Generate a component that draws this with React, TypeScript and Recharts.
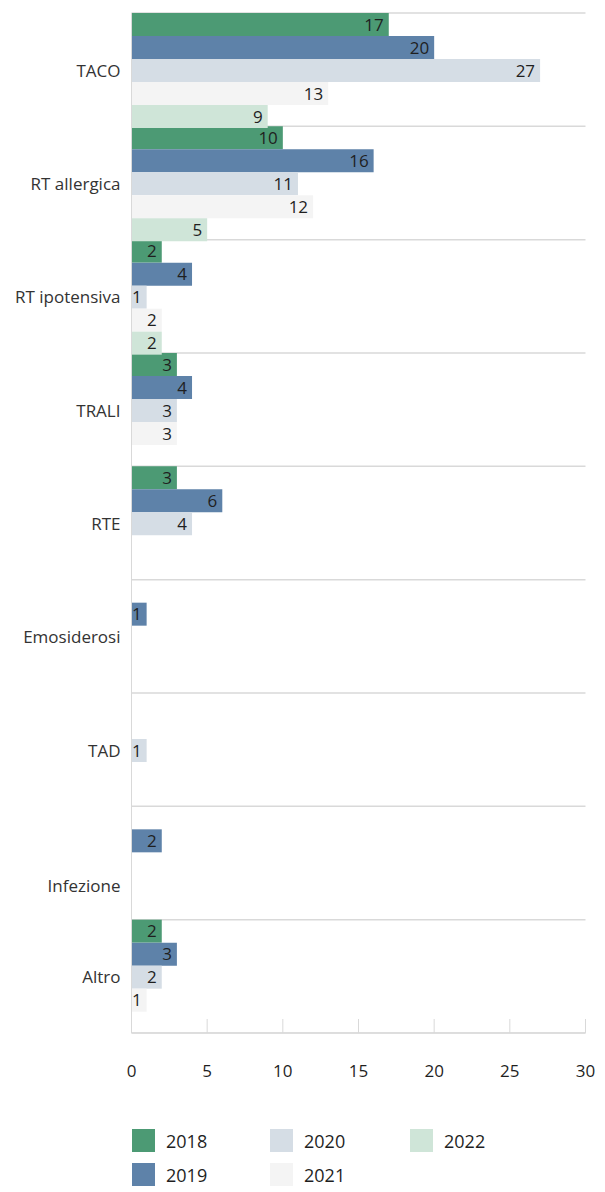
import { Bar, BarChart, CartesianGrid, LabelList, XAxis, YAxis } from "recharts";

// Reazioni trasfusionali per tipo, 2018–2022
const categories = [
  "TACO",
  "RT allergica",
  "RT ipotensiva",
  "TRALI",
  "RTE",
  "Emosiderosi",
  "TAD",
  "\n\nInfezione",
  "Altro",
];

const years = ["2018", "2019", "2020", "2021", "2022"];

const v2018 = [17, 10, 2, 3, 3, null, null, null, 2];
const v2019 = [20, 16, 4, 4, 6, 1, null, 2, 3];
const v2020 = [27, 11, 1, 3, 4, null, 1, null, 2];
const v2021 = [13, 12, 2, 3, null, null, null, null, 1];
const v2022 = [9, 5, 2, null, null, null, null, null, null];

const xTicks = [0, 5, 10, 15, 20, 25, 30];

const colors = ["#4c9a74", "#5e82a9", "#d5dde5", "#f4f4f4", "#cfe5d8"];

const font = "'Open Sans', sans-serif";
const textColor = "#1f1f1f";
const lineColor = "#d9d9d9";

const seriesValues = [v2018, v2019, v2020, v2021, v2022];

const data = categories.map((name, i) => {
  const row: Record<string, string | number | null> = { name };
  years.forEach((y, s) => {
    row[y] = seriesValues[s][i];
  });
  return row;
});

// separators sit on the band edges of the category axis, not on its ticks
function bandEdges({ yAxis }: any): number[] {
  const scale = yAxis?.scale;
  if (!scale) return [];
  const map = (c: string): number =>
    typeof scale === "function" ? scale(c) : scale.map(c);
  const bw =
    typeof scale.bandwidth === "function"
      ? scale.bandwidth()
      : yAxis.bandSize ?? 0;
  const starts = categories.map((c) => map(c));
  if (starts.some((v) => typeof v !== "number" || isNaN(v))) return [];
  return starts.concat(starts[starts.length - 1] + bw);
}

function CategoryTick(props: any) {
  const { x, y, payload } = props;
  const lines = String(payload.value).split("\n");
  const lh = 22;
  const start = y - ((lines.length - 1) * lh) / 2;
  return (
    <text
      x={x}
      y={start}
      textAnchor="end"
      fill="#333"
      fontSize={17}
      fontFamily={font}
      dominantBaseline="central"
    >
      {lines.map((l, i) => (
        <tspan key={i} x={x} y={start + i * lh}>
          {l}
        </tspan>
      ))}
    </text>
  );
}

function LegendBlock() {
  const rows = [
    [0, 2, 4],
    [1, 3],
  ];
  const colX = [124, 262, 402];
  return (
    <div style={{ position: "relative", height: 70, fontFamily: font }}>
      {rows.map((row, r) =>
        row.map((s, c) => (
          <div
            key={years[s]}
            style={{
              position: "absolute",
              left: colX[c],
              top: 11 + r * 34,
              display: "flex",
              alignItems: "center",
              height: 23,
            }}
          >
            <span
              style={{
                width: 23,
                height: 23,
                background: colors[s],
                display: "inline-block",
              }}
            />
            <span
              style={{
                marginLeft: 11,
                fontSize: 18,
                color: textColor,
              }}
            >
              {years[s]}
            </span>
          </div>
        ))
      )}
    </div>
  );
}

export default function App() {
  return (
    <div style={{ width: 597 }}>
      <BarChart
        width={597}
        height={1110}
        data={data}
        layout="vertical"
        barCategoryGap={0}
        barGap={0}
        margin={{ top: 5, right: 19.5, left: 0, bottom: 40 }}
      >
        <CartesianGrid
          vertical={false}
          horizontalCoordinatesGenerator={bandEdges}
          stroke={lineColor}
          strokeWidth={1.5}
        />
        <XAxis
          type="number"
          domain={[0, 30]}
          ticks={xTicks}
          height={45}
          stroke={lineColor}
          tickSize={-14}
          tickMargin={46}
          tick={{ fill: textColor, fontSize: 17, fontFamily: font }}
        />
        <YAxis
          type="category"
          dataKey="name"
          width={123.5}
          stroke={lineColor}
          tickLine={false}
          tickSize={0}
          tickMargin={11}
          tick={<CategoryTick />}
        />
        {years.map((y, s) => (
          <Bar key={y} dataKey={y} fill={colors[s]} isAnimationActive={false}>
            <LabelList
              dataKey={y}
              position="insideRight"
              offset={5}
              fill={textColor}
              fontSize={17}
              fontFamily={font}
            />
          </Bar>
        ))}
      </BarChart>
      <LegendBlock />
    </div>
  );
}
